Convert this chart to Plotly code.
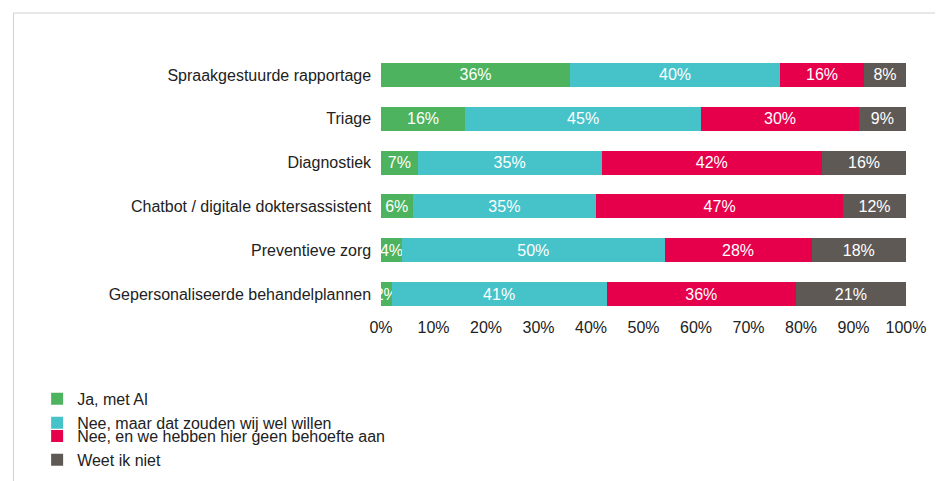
# data visualization
import plotly.graph_objects as go


### chart data
categories = ['Spraakgestuurde rapportage', 'Triage', 'Diagnostiek',
              'Chatbot / digitale doktersassistent', 'Preventieve zorg',
              'Gepersonaliseerde behandelplannen']
ja_met_ai = [36, 16, 7, 6, 4, 2]
nee_willen = [40, 45, 35, 35, 50, 41]
nee_geen_behoefte = [16, 30, 42, 47, 28, 36]
weet_niet = [8, 9, 16, 12, 18, 21]

series_names = ['Ja, met AI', 'Nee, maar dat zouden wij wel willen',
                'Nee, en we hebben hier geen behoefte aan', 'Weet ik niet']
series_values = [ja_met_ai, nee_willen, nee_geen_behoefte, weet_niet]
colors = ['#4db35e', '#45c3c9', '#e6004c', '#5f5955']
legends = ['legend', 'legend', 'legend2', 'legend2']  # two legend rows
tick_values = list(range(0, 101, 10))

#### build figure

fig = go.Figure()

for name, values, color, lg in zip(series_names, series_values, colors, legends):
    fig.add_trace(go.Bar(y=categories, x=values, orientation='h', name=name,
                         marker=dict(color=color, line=dict(width=0)),
                         text=[f'{v}%' for v in values], textposition='inside',
                         insidetextanchor='middle', textangle=0, legend=lg,
                         textfont=dict(color='white', size=16)))

#### layout - axes, legends and frame

legend_style = dict(orientation='h', x=-0.655, xanchor='left', yanchor='middle',
                    entrywidth=465, entrywidthmode='pixels', traceorder='normal',
                    bgcolor='rgba(0,0,0,0)', font=dict(size=16))

fig.update_layout(
    barmode='stack', bargap=0.45,
    width=943, height=481,
    paper_bgcolor='white', plot_bgcolor='white',
    font=dict(family='Liberation Sans, Open Sans', size=16, color='#222222'),
    margin=dict(l=373, r=45, t=45, b=173),
    uniformtext=dict(minsize=14, mode='show'),
    legend=dict(legend_style, y=-0.361),
    legend2=dict(legend_style, y=-0.502),
    shapes=[dict(type='rect', xref='paper', yref='paper', x0=-0.70, x1=1.076,
                 y0=-0.635, y1=1.152, line=dict(color='#d0d0d0', width=1),
                 layer='below')],
)
fig.update_xaxes(range=[0, 100], tickvals=tick_values,
                 ticktext=[f'{v}%' for v in tick_values], showgrid=False,
                 zeroline=False, ticks='', tickfont=dict(size=16))
fig.update_yaxes(autorange='reversed', ticks='', ticksuffix='  ',
                 tickfont=dict(size=16))

fig.write_html('out.html')
